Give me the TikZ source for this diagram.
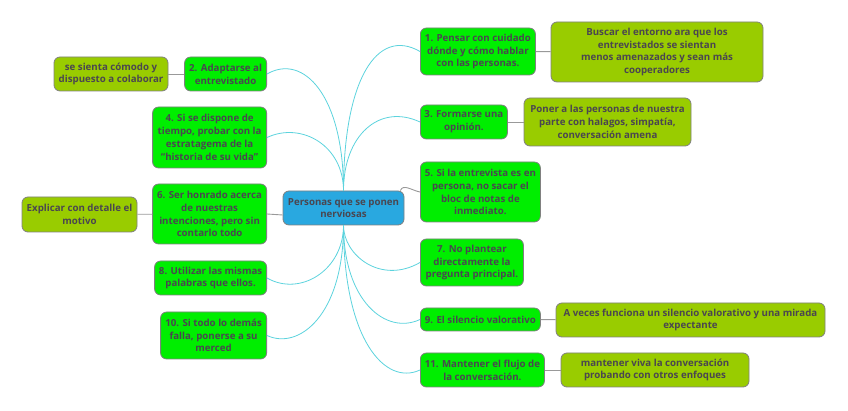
\documentclass[tikz,border=0pt]{standalone}
\usepackage{fontspec}
\setmainfont{Open Sans}
\usetikzlibrary{backgrounds}
\usetikzlibrary{shapes}

\definecolor{txtgray}{HTML}{4A4650}
\definecolor{topicgreen}{HTML}{00EE00}
\definecolor{notegreen}{HTML}{99CC00}
\definecolor{rootblue}{HTML}{29A8E0}
\definecolor{branchcyan}{HTML}{5CD3DD}
\definecolor{edgegray}{HTML}{999999}

\begin{document}
\begin{tikzpicture}[x=1pt,y=1pt]
\tikzstyle{block} = [rectangle, draw=gray, line width=0.8, rounded corners=6, align=center, inner sep=1, text=txtgray, font=\fontsize{9.7}{12.8}\selectfont\bfseries]
\tikzstyle{root} = [block, fill=rootblue]
\tikzstyle{topic} = [block, fill=topicgreen]
\tikzstyle{note} = [block, fill=notegreen]
\tikzstyle{branch} = [draw=branchcyan, line width=0.8]
\tikzstyle{line} = [draw=edgegray, line width=0.9]
\useasboundingbox (0,0) rectangle (848,411);

% centre
\node [root, minimum width=121, minimum height=34] (c) at (343.5,203) {Personas que se ponen\\nerviosas};

% right side
\node [topic, anchor=west, minimum width=115, minimum height=47] (n1) at (420,359.5) {1. Pensar con cuidado\\dónde y cómo hablar\\con las personas.};
\node [note, minimum width=212, minimum height=60] (d1) at (657,359) {Buscar el entorno ara que los\\entrevistados se sientan\\menos amenazados y sean más\\cooperadores};
\node [topic, anchor=west, minimum width=87, minimum height=34] (n3) at (420,289) {3. Formarse una\\opinión.};
\node [note, minimum width=167, minimum height=48] (d3) at (607.5,289) {Poner a las personas de nuestra\\parte con halagos, simpatía,\\conversación amena};
\node [topic, anchor=west, minimum width=120, minimum height=60] (n5) at (420,219) {5. Si la entrevista es en\\persona, no sacar el\\bloc de notas de\\inmediato.};
\node [topic, anchor=west, minimum width=103, minimum height=47] (n7) at (420,148.5) {7. No plantear\\directamente la\\pregunta principal.};
\node [topic, anchor=west, minimum width=120, minimum height=23] (n9) at (420,91.5) {9. El silencio valorativo};
\node [note, minimum width=269, minimum height=34] (d9) at (690.5,91) {A veces funciona un silencio valorativo y una mirada\\expectante};
\node [topic, anchor=west, minimum width=124, minimum height=34] (n11) at (420,41) {11. Mantener el flujo de\\la conversación.};
\node [note, minimum width=188, minimum height=34] (d11) at (655,41) {mantener viva la conversación\\probando con otros enfoques};

% left side
\node [topic, anchor=east, minimum width=82, minimum height=34] (n2) at (267,337) {2. Adaptarse al\\entrevistado};
\node [note, minimum width=114, minimum height=34] (d2) at (111,337) {se sienta cómodo y\\dispuesto a colaborar};
\node [topic, anchor=east, minimum width=114, minimum height=61] (n4) at (267,273.5) {4. Si se dispone de\\tiempo, probar con la\\estratagema de la\\“historia de su vida”};
\node [topic, anchor=east, minimum width=114, minimum height=60] (n6) at (267,197) {6. Ser honrado acerca\\de nuestras\\intenciones, pero sin\\contarlo todo};
\node [note, minimum width=115, minimum height=35] (d6) at (79.5,196.5) {Explicar con detalle el\\motivo};
\node [topic, anchor=east, minimum width=112, minimum height=34] (n8) at (267,133) {8. Utilizar las mismas\\palabras que ellos.};
\node [topic, anchor=east, minimum width=106, minimum height=47] (n10) at (267,75.5) {10. Si todo lo demás\\falla, ponerse a su\\merced};

% branches
\draw [branch] (c.north) to[out=90,in=150,out distance=110,in distance=50] (n1.west);
\draw [branch] (c.north) to[out=90,in=155,out distance=55,in distance=45] (n3.west);
\draw [branch] (c.north) to[out=90,in=30,out distance=95,in distance=42] (n2.east);
\draw [branch] (c.north) to[out=90,in=25,out distance=45,in distance=38] (n4.east);
\draw [branch] (c.south) to[out=-90,in=210,out distance=30,in distance=45] (n7.west);
\draw [branch] (c.south) to[out=-90,in=205,out distance=75,in distance=38] (n9.west);
\draw [branch] (c.south) to[out=-90,in=205,out distance=115,in distance=38] (n11.west);
\draw [branch] (c.south) to[out=-90,in=-30,out distance=45,in distance=38] (n8.east);
\draw [branch] (c.south) to[out=-90,in=-25,out distance=90,in distance=35] (n10.east);
\draw [line] ([xshift=-4]c.north east) to[out=70,in=170] (n5.west);
\draw [line] ([yshift=-7]c.west) -- (n6.east);

% notes
\draw [line] (n1) -- (d1);
\draw [line] (n3) -- (d3);
\draw [line] (n9) -- (d9);
\draw [line] (n11) -- (d11);
\draw [line] (n2) -- (d2);
\draw [line] (n6) -- (d6);
\end{tikzpicture}
\end{document}
